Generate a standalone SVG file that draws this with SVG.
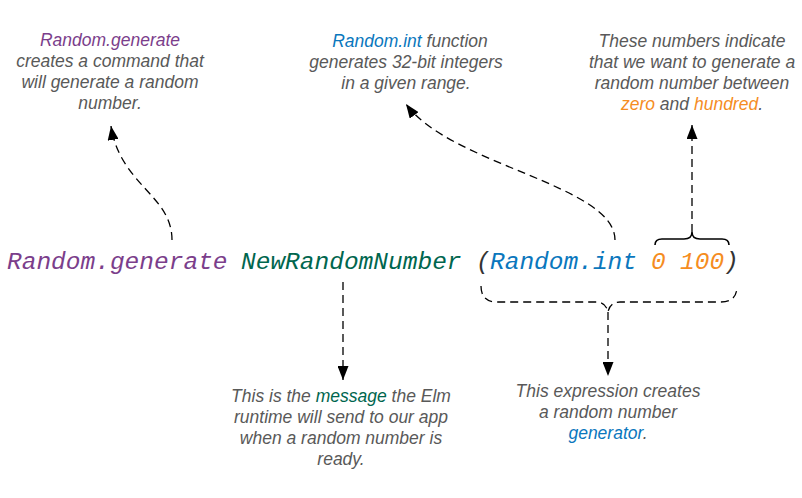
<svg xmlns="http://www.w3.org/2000/svg" width="802" height="498" viewBox="0 0 802 498">
<defs>
<style>
.note{font-family:"Liberation Sans",Arial,sans-serif;font-style:italic;font-size:17.5px;fill:#595959;text-anchor:middle}
.code{font-family:"Liberation Mono","Courier New",monospace;font-style:italic;font-size:24.5px}
.purple{fill:#7b3e8b}
.green{fill:#00664e}
.blue{fill:#0a77bd}
.orange{fill:#f58d1f}
.dark{fill:#333333}
.dash{fill:none;stroke:#000;stroke-width:1.3;stroke-dasharray:8 5}
.solid{fill:none;stroke:#000;stroke-width:1.6}
</style>
<marker id="ah" markerUnits="userSpaceOnUse" markerWidth="14" markerHeight="11" refX="14" refY="5.5" orient="auto" viewBox="0 0 14 11">
<path d="M0,0 L14,5.5 L0,11 z" fill="#000"/>
</marker>
</defs>
<rect width="802" height="498" fill="#fff"/>

<g id="code">
<text class="code" y="269"><tspan class="purple" x="7">Random.generate</tspan><tspan class="green" x="241">NewRandomNumber</tspan><tspan class="dark" x="476">(</tspan><tspan class="blue" x="490">Random.int</tspan><tspan class="orange" x="651">0</tspan><tspan class="orange" x="680">100</tspan><tspan class="dark" x="724">)</tspan></text>
</g>

<g id="note-generate">
<text class="note"><tspan x="110" y="46" class="purple">Random.generate</tspan><tspan x="110" y="67">creates a command that</tspan><tspan x="110" y="88">will generate a random</tspan><tspan x="110" y="109">number.</tspan></text>
</g>

<g id="note-int">
<text class="note"><tspan x="410" y="47"><tspan class="blue">Random.int</tspan> function</tspan><tspan x="406" y="68">generates 32-bit integers</tspan><tspan x="406" y="89">in a given range.</tspan></text>
</g>

<g id="note-numbers">
<text class="note"><tspan x="692" y="47">These numbers indicate</tspan><tspan x="692" y="68">that we want to generate a</tspan><tspan x="692" y="89">random number between</tspan><tspan x="692" y="110"><tspan class="orange">zero</tspan> and <tspan class="orange">hundred</tspan>.</tspan></text>
</g>

<g id="note-message">
<text class="note"><tspan x="341" y="402">This is the <tspan class="green">message</tspan> the Elm</tspan><tspan x="341" y="423">runtime will send to our app</tspan><tspan x="341" y="444">when a random number is</tspan><tspan x="341" y="465">ready.</tspan></text>
</g>

<g id="note-generator">
<text class="note"><tspan x="608" y="397">This expression creates</tspan><tspan x="608" y="418">a random number</tspan><tspan x="608" y="439"><tspan class="blue">generator</tspan>.</tspan></text>
</g>

<g id="connectors">
<path class="dash" d="M172,240 C172,195 120,185 111,126" marker-end="url(#ah)"/>
<path class="dash" d="M615,240 C615,185 450,165 406,104" marker-end="url(#ah)"/>
<path class="solid" d="M655,245 Q655,239 662,239 L684,239 Q692,239 692,232 Q692,239 700,239 L722,239 Q729,239 729,245"/>
<path class="dash" d="M692,232 L692,125" marker-end="url(#ah)"/>
<path class="dash" d="M343,282 L343,380" marker-end="url(#ah)"/>
<path class="dash" d="M481,286 Q481,302 497,302 L596,302 Q606,302 608,312 Q610,302 620,302 L721,302 Q737,302 737,286"/>
<path class="dash" d="M608,312 L608,376" marker-end="url(#ah)"/>
</g>
</svg>
